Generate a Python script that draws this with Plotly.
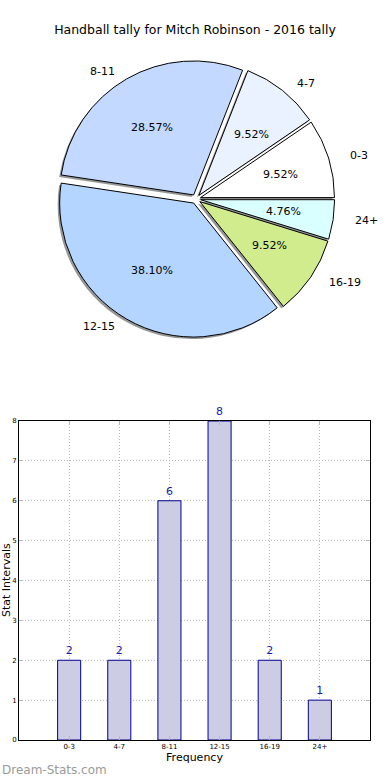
import math
import plotly.graph_objects as go

categories = ["0-3", "4-7", "8-11", "12-15", "16-19", "24+"]
counts = [2, 2, 6, 8, 2, 1]
pie_colors = ["#FFFFFF", "#EAF2FF", "#C4D9FF", "#B4D5FF", "#D0EC8C", "#DAFFFF"]
y_ticks = [0, 1, 2, 3, 4, 5, 6, 7, 8]

W, H = 390, 780
pull = 0.035
total = sum(counts)
# plotly draws the first ccw slice ending at the rotation angle; shift so it starts at 3 o'clock
rot = 90 - 360 * counts[0] / total
cx, cy, r = 196, 199, 134
rx, ry = 140, 130  # text placement radii (reference pie is slightly elliptical)
size = 2 * r * (1 + pull)

def dom(dx=0, dy=0):
    x0 = (cx - size / 2 + dx) / W
    x1 = (cx + size / 2 + dx) / W
    y0 = 1 - (cy + size / 2 + dy) / H
    y1 = 1 - (cy - size / 2 + dy) / H
    return dict(x=[x0, x1], y=[y0, y1])

fig = go.Figure()

common = dict(labels=categories, values=counts, sort=False,
              direction="counterclockwise", rotation=rot,
              pull=[pull] * len(counts), showlegend=False, textinfo="none")

# shadow
fig.add_trace(go.Pie(
    **common, domain=dom(-2, 2),
    marker=dict(colors=["rgba(80,80,80,0.6)"] * len(counts), line=dict(width=0)),
    hoverinfo="skip",
))
# main pie
fig.add_trace(go.Pie(
    **common, domain=dom(),
    marker=dict(colors=pie_colors, line=dict(color="black", width=1)),
))

# labels and percentages placed along each slice's mid angle
annotations = []
cum = 0
for lab, v in zip(categories, counts):
    mid = math.radians(360 * (cum + v / 2) / total)
    cum += v
    ux, uy = math.cos(mid), math.sin(mid)
    k = pull + 0.6
    annotations.append(dict(
        text=f"{100 * v / total:.2f}%", xref="paper", yref="paper",
        x=(cx + k * rx * ux) / W, y=1 - (cy - k * ry * uy) / H, showarrow=False,
        xanchor="center", yanchor="middle", font=dict(size=11, color="black")))
    k = pull + 1.1
    annotations.append(dict(
        text=lab, xref="paper", yref="paper",
        x=(cx + k * rx * ux) / W, y=1 - (cy - k * ry * uy) / H, showarrow=False,
        xanchor="left" if ux > 0 else "right", yanchor="middle",
        font=dict(size=11, color="black")))

# bar chart
xpos = list(range(len(categories)))
fig.add_trace(go.Bar(
    x=xpos, y=counts, width=0.46,
    marker=dict(color="#CCCCE5", line=dict(color="#00008B", width=1)),
    text=[str(c) for c in counts], textposition="outside", cliponaxis=False,
    textfont=dict(family="DejaVu Sans", size=11, color="#1a1aa8"),
    showlegend=False, xaxis="x", yaxis="y",
))

px0, px1, py0, py1 = 19, 370, 421, 740
grid = dict(showgrid=True, gridcolor="#b8b8b8", griddash="1px,2px", gridwidth=1,
            showline=True, linecolor="black", linewidth=1, mirror="ticks",
            ticks="inside", ticklen=4, tickcolor="#b8b8b8",
            tickfont=dict(size=7), zeroline=False, automargin=False)

annotations += [
    dict(text="Stat Intervals", xref="paper", yref="paper", x=6 / W,
         y=1 - 580 / H, textangle=-90, showarrow=False,
         font=dict(size=11, color="black"), xanchor="center", yanchor="middle"),
    dict(text="Dream-Stats.com", xref="paper", yref="paper", x=0,
         y=1 - 770 / H, showarrow=False, xanchor="left", yanchor="middle",
         font=dict(size=12, color="#9a9a9a", family="DejaVu Sans")),
]

fig.update_layout(
    width=W, height=H, margin=dict(l=0, r=0, t=0, b=0),
    paper_bgcolor="white", plot_bgcolor="white",
    font=dict(family="DejaVu Sans", color="black"),
    title=dict(text="Handball tally for Mitch Robinson - 2016 tally",
               x=0.5, xanchor="center", y=1 - 30 / H, yanchor="middle",
               font=dict(size=12.5, color="black"), automargin=False),
    xaxis=dict(domain=[px0 / W, px1 / W], range=[-1, 6],
               tickmode="array", tickvals=list(range(-1, 7)),
               ticktext=[""] + categories + [""],
               title=dict(text="Frequency", font=dict(size=11), standoff=2),
               **grid),
    yaxis=dict(domain=[1 - py1 / H, 1 - py0 / H], range=[0, 8],
               tickmode="array", tickvals=y_ticks, **grid),
    annotations=annotations,
)

fig.write_html("out.html", config={"displayModeBar": False},
               post_script="document.body.style.margin='0';document.body.style.overflow='hidden';")
